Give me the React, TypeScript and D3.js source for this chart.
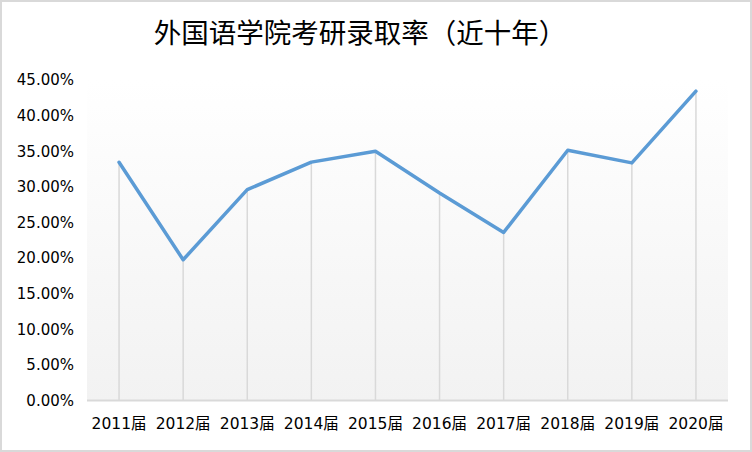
import React, { useEffect, useRef } from 'react';
import * as d3 from 'd3';

const categories = ['2011届', '2012届', '2013届', '2014届', '2015届', '2016届', '2017届', '2018届', '2019届', '2020届'];
const rates = [0.3344, 0.1976, 0.296, 0.3347, 0.35, 0.2914, 0.236, 0.3513, 0.3336, 0.4343];
const yTicks = [0, 0.05, 0.1, 0.15, 0.2, 0.25, 0.3, 0.35, 0.4, 0.45];
const title = '外国语学院考研录取率（近十年）';

const W = 752;
const H = 452;

const App: React.FC = () => {
  const svgRef = useRef<SVGSVGElement | null>(null);

  useEffect(() => {
    if (!svgRef.current) return;
    const svg = d3.select(svgRef.current);
    svg.selectAll('*').remove();

    const left = 87;
    const right = 728;
    const top = 80;
    const bottom = 400.5;

    const x = d3.scaleBand<string>().domain(categories).range([left, right]);
    const y = d3.scaleLinear().domain([0, 0.45]).range([bottom, top]);
    const cx = (c: string) => (x(c) as number) + x.bandwidth() / 2;

    // outer frame
    svg.append('rect')
      .attr('x', 1).attr('y', 1)
      .attr('width', W - 2).attr('height', H - 2)
      .attr('fill', '#fff')
      .attr('stroke', '#d9d9d9')
      .attr('stroke-width', 2);

    // plot background gradient
    const grad = svg.append('defs').append('linearGradient')
      .attr('id', 'plotBg')
      .attr('x1', 0).attr('y1', 0).attr('x2', 0).attr('y2', 1);
    grad.append('stop').attr('offset', '0%').attr('stop-color', '#ffffff');
    grad.append('stop').attr('offset', '100%').attr('stop-color', '#f2f2f2');

    svg.append('rect')
      .attr('x', left).attr('y', top)
      .attr('width', right - left).attr('height', bottom - top)
      .attr('fill', 'url(#plotBg)');

    // title
    svg.append('text')
      .attr('x', 360)
      .attr('y', 43)
      .attr('text-anchor', 'middle')
      .style('font-family', '"Noto Sans CJK SC", sans-serif')
      .style('font-size', '27.5px')
      .style('fill', '#000')
      .text(title);

    // drop lines
    svg.append('g')
      .selectAll('line')
      .data(categories)
      .join('line')
      .attr('x1', (d) => cx(d))
      .attr('x2', (d) => cx(d))
      .attr('y1', (_d, i) => y(rates[i]))
      .attr('y2', bottom)
      .attr('stroke', '#d9d9d9')
      .attr('stroke-width', 1.5);

    // x axis line
    svg.append('line')
      .attr('x1', left).attr('x2', right)
      .attr('y1', bottom).attr('y2', bottom)
      .attr('stroke', '#d9d9d9')
      .attr('stroke-width', 2);

    // y tick labels
    const fmt = d3.format('.2%');
    svg.append('g')
      .selectAll('text')
      .data(yTicks)
      .join('text')
      .attr('x', 74)
      .attr('y', (d) => y(d))
      .attr('dy', '0.36em')
      .attr('text-anchor', 'end')
      .style('font-family', '"DejaVu Sans", sans-serif')
      .style('font-size', '15px')
      .style('fill', '#000')
      .text((d) => fmt(d));

    // x labels
    svg.append('g')
      .selectAll('text')
      .data(categories)
      .join('text')
      .attr('x', (d) => cx(d))
      .attr('y', 423)
      .attr('dy', '0.36em')
      .attr('text-anchor', 'middle')
      .style('font-family', '"DejaVu Sans", "Noto Sans CJK SC", sans-serif')
      .style('font-size', '15.5px')
      .style('fill', '#000')
      .text((d) => d);

    // line
    const line = d3.line<number>()
      .x((_d, i) => cx(categories[i]))
      .y((d) => y(d));

    svg.append('path')
      .datum(rates)
      .attr('d', line)
      .attr('fill', 'none')
      .attr('stroke', '#5b9bd5')
      .attr('stroke-width', 3.5)
      .attr('stroke-linejoin', 'round')
      .attr('stroke-linecap', 'round');

    return () => { svg.selectAll('*').remove(); };
  }, []);

  return (
    <svg
      ref={svgRef}
      width={W}
      height={H}
      style={{ position: 'absolute', left: 0, top: 0, display: 'block' }}
    />
  );
};

export default App;
